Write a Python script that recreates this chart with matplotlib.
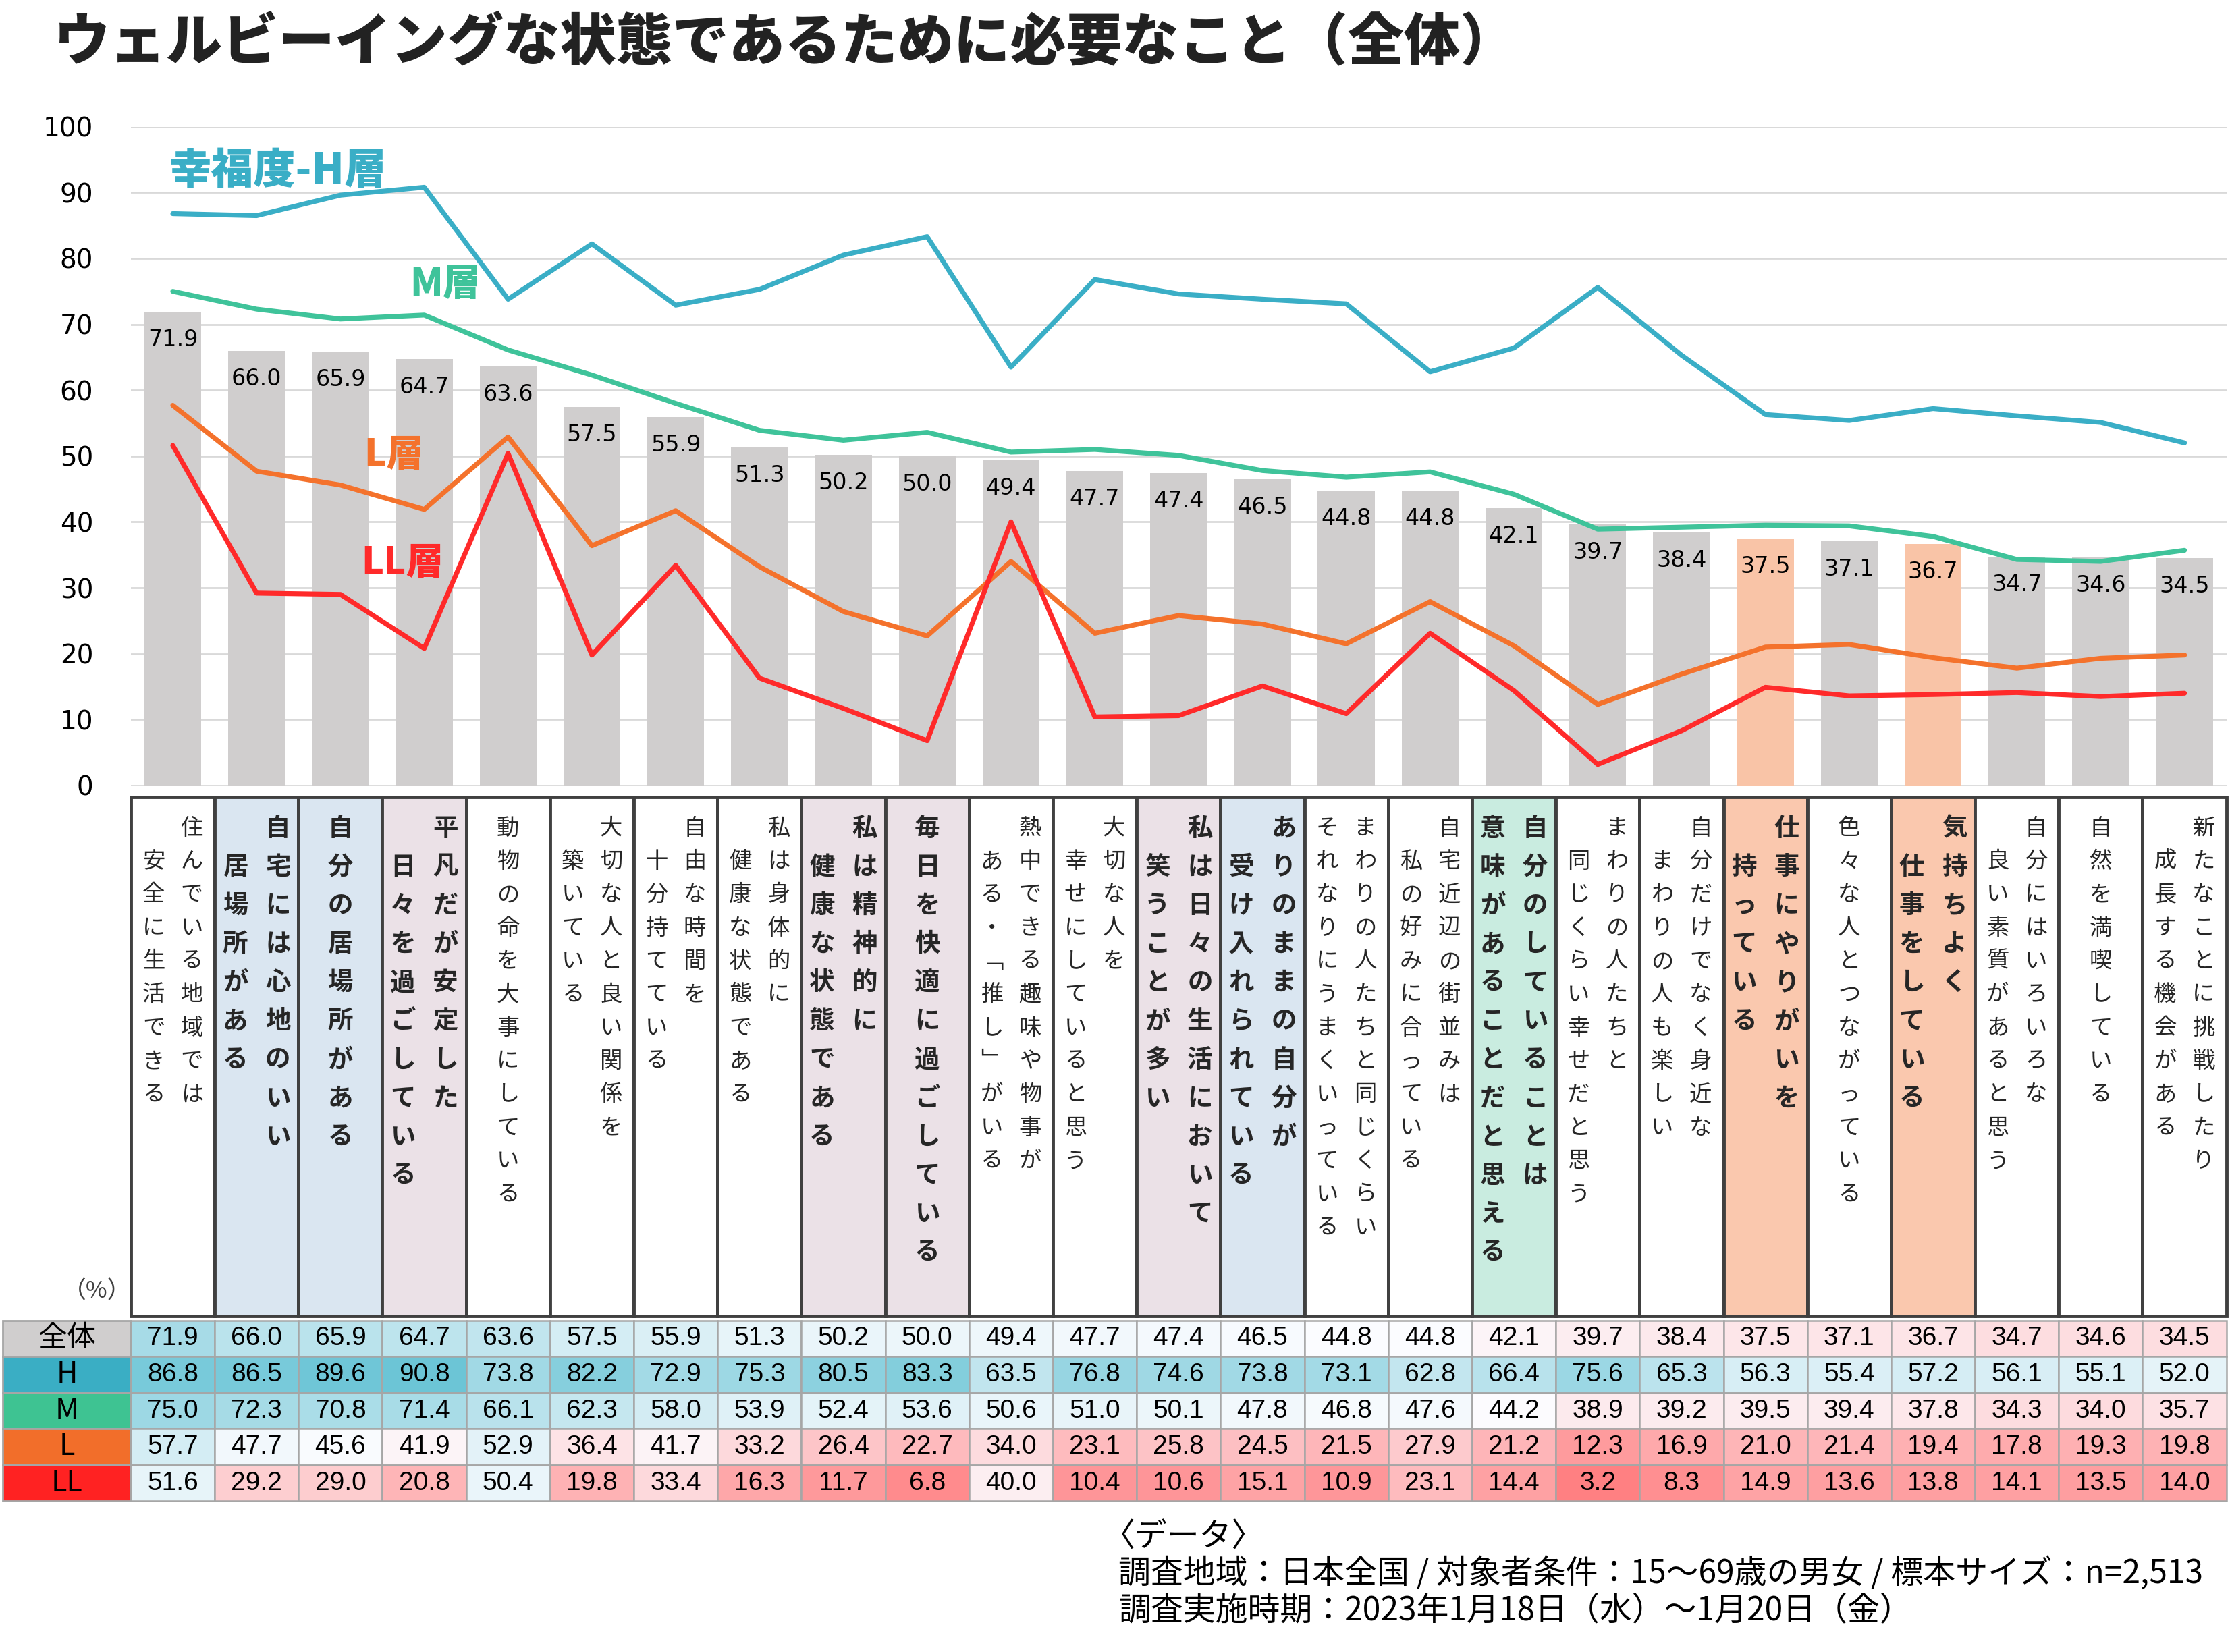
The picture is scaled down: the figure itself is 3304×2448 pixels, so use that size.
import numpy as np
import matplotlib
matplotlib.use('Agg')
import matplotlib.pyplot as plt
from matplotlib.patches import Rectangle
from matplotlib.colors import LinearSegmentedColormap, TwoSlopeNorm

plt.rcParams['font.family'] = ['Noto Sans CJK JP', 'DejaVu Sans']

title = 'ウェルビーイングな状態であるために必要なこと（全体）'

# second line starts with a full-width space where the original is indented
categories = [
    '住んでいる地域では\n　安全に生活できる',
    '自宅には心地のいい\n　居場所がある',
    '自分の居場所がある',
    '平凡だが安定した\n　日々を過ごしている',
    '動物の命を大事にしている',
    '大切な人と良い関係を\n　築いている',
    '自由な時間を\n　十分持てている',
    '私は身体的に\n　健康な状態である',
    '私は精神的に\n　健康な状態である',
    '毎日を快適に過ごしている',
    '熱中できる趣味や物事が\n　ある・「推し」がいる',
    '大切な人を\n　幸せにしていると思う',
    '私は日々の生活において\n　笑うことが多い',
    'ありのままの自分が\n　受け入れられている',
    'まわりの人たちと同じくらい\nそれなりにうまくいっている',
    '自宅近辺の街並みは\n　私の好みに合っている',
    '自分のしていることは\n意味があることだと思える',
    'まわりの人たちと\n　同じくらい幸せだと思う',
    '自分だけでなく身近な\n　まわりの人も楽しい',
    '仕事にやりがいを\n　持っている',
    '色々な人とつながっている',
    '気持ちよく\n　仕事をしている',
    '自分にはいろいろな\n　良い素質があると思う',
    '自然を満喫している',
    '新たなことに挑戦したり\n　成長する機会がある',
]

overall = [71.9, 66.0, 65.9, 64.7, 63.6, 57.5, 55.9, 51.3, 50.2, 50.0, 49.4, 47.7, 47.4,
           46.5, 44.8, 44.8, 42.1, 39.7, 38.4, 37.5, 37.1, 36.7, 34.7, 34.6, 34.5]
high = [86.8, 86.5, 89.6, 90.8, 73.8, 82.2, 72.9, 75.3, 80.5, 83.3, 63.5, 76.8, 74.6,
        73.8, 73.1, 62.8, 66.4, 75.6, 65.3, 56.3, 55.4, 57.2, 56.1, 55.1, 52.0]
middle = [75.0, 72.3, 70.8, 71.4, 66.1, 62.3, 58.0, 53.9, 52.4, 53.6, 50.6, 51.0, 50.1,
          47.8, 46.8, 47.6, 44.2, 38.9, 39.2, 39.5, 39.4, 37.8, 34.3, 34.0, 35.7]
low = [57.7, 47.7, 45.6, 41.9, 52.9, 36.4, 41.7, 33.2, 26.4, 22.7, 34.0, 23.1, 25.8,
       24.5, 21.5, 27.9, 21.2, 12.3, 16.9, 21.0, 21.4, 19.4, 17.8, 19.3, 19.8]
lowest = [51.6, 29.2, 29.0, 20.8, 50.4, 19.8, 33.4, 16.3, 11.7, 6.8, 40.0, 10.4, 10.6,
          15.1, 10.9, 23.1, 14.4, 3.2, 8.3, 14.9, 13.6, 13.8, 14.1, 13.5, 14.0]

row_names = ['全体', 'H', 'M', 'L', 'LL']
line_names = ['幸福度-H層', 'M層', 'L層', 'LL層']

# styling
C_H, C_M, C_L, C_LL = '#3AAEC6', '#3FC39A', '#F4722C', '#FF2A2A'
row_colors = ['#D0CECE', '#3AAEC4', '#3EC392', '#F26E2A', '#FF2222']
hl = {1: '#DAE6F1', 2: '#DAE6F1', 13: '#DAE6F1',
      3: '#EBE1E7', 8: '#EBE1E7', 9: '#EBE1E7', 12: '#EBE1E7',
      16: '#C9ECE0', 19: '#FAC8AE', 21: '#FAC8AE'}
bar_hl = {19: '#F9C4A7', 21: '#F9C4A7'}
vert = {'「': '\ufe41', '」': '\ufe42'}

fig = plt.figure(figsize=(33.05, 24.48), dpi=100)
W, H = 1568.0, 1161.0
x0, x1 = 92.0, 1565.0
cw = (x1 - x0) / len(overall)

ax = fig.add_axes([x0 / W, 1 - 552 / H, (x1 - x0) / W, (552 - 89) / H])
x = np.arange(len(overall))
ax.bar(x, overall, width=0.68, color=[bar_hl.get(i, '#D0CECE') for i in x], zorder=2)
for vals, c in [(high, C_H), (middle, C_M), (low, C_L), (lowest, C_LL)]:
    ax.plot(x, vals, color=c, lw=5.2, zorder=3, solid_joinstyle='round', solid_capstyle='round')
for xi, v in zip(x, overall):
    ax.annotate(f'{v:.1f}', (xi, v), xytext=(0, -30), textcoords='offset points',
                ha='center', va='center', fontsize=24, family='DejaVu Sans', zorder=4)

for name, c, fs, (lx, ly) in zip(line_names, [C_H, C_M, C_L, C_LL], [45, 40, 40, 40],
                                 [(1.25, 93.3), (3.25, 76.0), (2.64, 50.1), (2.74, 33.7)]):
    ax.text(lx, ly, name, color=c, fontsize=fs, fontweight=900, ha='center', va='center', zorder=5)

ax.set_xlim(-0.5, len(overall) - 0.5)
ax.set_ylim(0, 100)
ax.set_yticks(range(0, 101, 10))
ax.set_xticks([])
ax.tick_params(axis='y', length=0, pad=40, labelsize=28)
for lbl in ax.get_yticklabels():
    lbl.set_family('DejaVu Sans')
ax.yaxis.grid(True, color='#D9D9D9', lw=2)
ax.set_axisbelow(True)
for s in ax.spines.values():
    s.set_visible(False)

# table part, in reference layout units
tax = fig.add_axes([0, 0, 1, 1])
tax.set_xlim(0, W)
tax.set_ylim(H, 0)
tax.axis('off')
tax.patch.set_alpha(0)

for i, label in enumerate(categories):
    bold = i in hl
    tax.add_patch(Rectangle((x0 + i * cw, 560), cw, 365, fc=hl.get(i, 'white'),
                            ec='#404040', lw=3.5))
    fs, step, gap = (27, 27.1, 30) if bold else (24, 23.4, 27)
    cx = x0 + cw * (i + 0.5)
    lines = label.split('\n')
    n = len(lines)
    for j, line in enumerate(lines):
        lx = cx + gap * ((n - 1) / 2 - j)
        for k, ch in enumerate(line):
            if ch == '　':
                continue
            tax.text(lx, 582 + k * step, vert.get(ch, ch), ha='center', va='center',
                     fontsize=fs, fontweight='bold' if bold else 'normal', color='#262626')

tax.text(68, 908, '（%）', ha='center', va='center', fontsize=25, color='#404040')

rows = [overall, high, middle, low, lowest]
all_vals = np.concatenate(rows)
cmap = LinearSegmentedColormap.from_list('hm', ['#FF8082', '#FCFCFF', '#6CC5D6'])
norm = TwoSlopeNorm(vmin=all_vals.min(), vcenter=np.median(all_vals), vmax=all_vals.max())
rh = 25.4
for r, vals in enumerate(rows):
    y = 928 + r * rh
    tax.add_patch(Rectangle((2, y), x0 - 2, rh, fc=row_colors[r], ec='#A6A6A6', lw=2))
    tax.text((2 + x0) / 2, y + rh / 2, row_names[r], ha='center', va='center', fontsize=31)
    for i, v in enumerate(vals):
        tax.add_patch(Rectangle((x0 + i * cw, y), cw, rh, fc=cmap(norm(v)), ec='#A6A6A6', lw=1.8))
        tax.text(x0 + cw * (i + 0.5), y + rh / 2, f'{v:.1f}', ha='center', va='center',
                 fontsize=28, family='Liberation Sans')

fig.text(38 / W, 1 - 30 / H, title, fontsize=60, fontweight=900, va='center', color='#222222')

tax.text(775, 1080, '〈データ〉', fontsize=34.5, va='center')
tax.text(786, 1106, '調査地域：日本全国 / 対象者条件：15～69歳の男女 / 標本サイズ：n=2,513', fontsize=34.5, va='center')
tax.text(786, 1132, '調査実施時期：2023年1月18日（水）～1月20日（金）', fontsize=34.5, va='center')

fig.savefig('out.png', dpi=100)
